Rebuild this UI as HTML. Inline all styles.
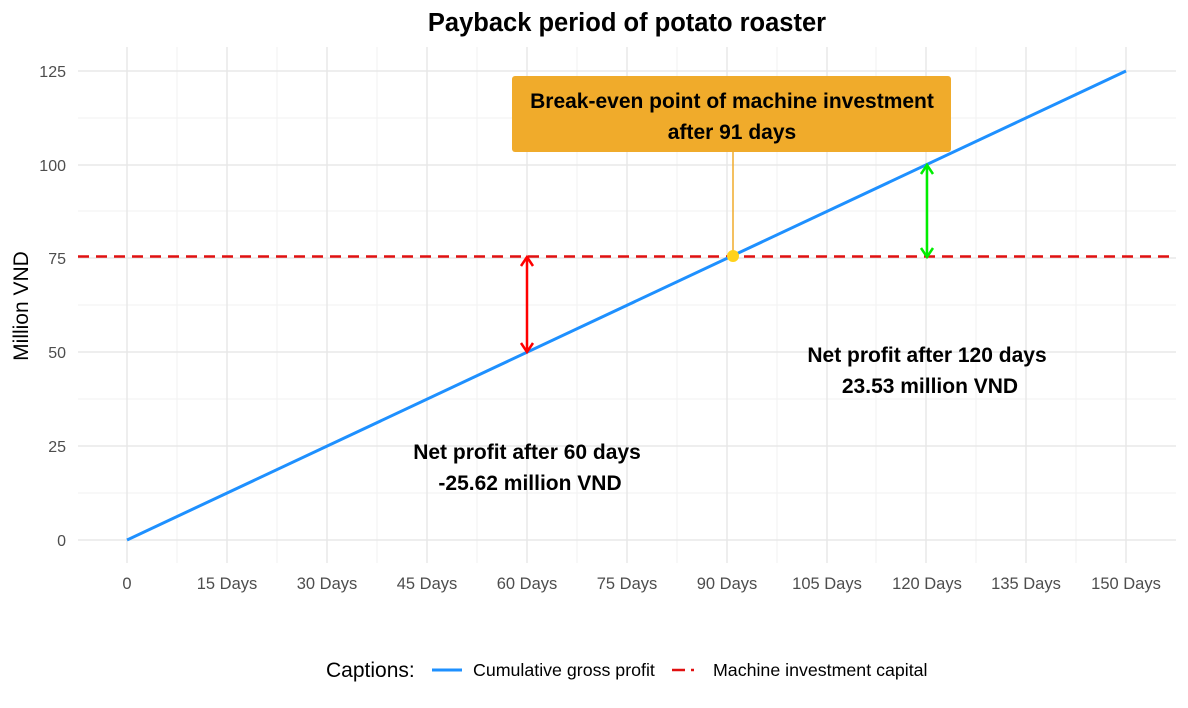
<!DOCTYPE html>
<html><head><meta charset="utf-8"><style>body{margin:0;background:#fff}svg{display:block}text{font-family:"Liberation Sans",Arial,sans-serif}</style></head><body>
<svg width="1188" height="708" viewBox="0 0 1188 708">
<rect width="1188" height="708" fill="#fff"/>
<g stroke="#f2f2f2" stroke-width="1">
<line x1="78" x2="1176" y1="493" y2="493"/><line x1="78" x2="1176" y1="399" y2="399"/><line x1="78" x2="1176" y1="305" y2="305"/><line x1="78" x2="1176" y1="211" y2="211"/><line x1="78" x2="1176" y1="118" y2="118"/>
<line x1="177" x2="177" y1="47" y2="563"/><line x1="277" x2="277" y1="47" y2="563"/><line x1="377" x2="377" y1="47" y2="563"/><line x1="477" x2="477" y1="47" y2="563"/><line x1="577" x2="577" y1="47" y2="563"/><line x1="677" x2="677" y1="47" y2="563"/><line x1="777" x2="777" y1="47" y2="563"/><line x1="876" x2="876" y1="47" y2="563"/><line x1="976" x2="976" y1="47" y2="563"/><line x1="1076" x2="1076" y1="47" y2="563"/>
</g>
<g stroke="#e8e8e8" stroke-width="1.5">
<line x1="78" x2="1176" y1="540" y2="540"/><line x1="78" x2="1176" y1="446" y2="446"/><line x1="78" x2="1176" y1="352" y2="352"/><line x1="78" x2="1176" y1="258" y2="258"/><line x1="78" x2="1176" y1="165" y2="165"/><line x1="78" x2="1176" y1="71" y2="71"/>
<line x1="127" x2="127" y1="47" y2="563"/><line x1="227" x2="227" y1="47" y2="563"/><line x1="327" x2="327" y1="47" y2="563"/><line x1="427" x2="427" y1="47" y2="563"/><line x1="527" x2="527" y1="47" y2="563"/><line x1="627" x2="627" y1="47" y2="563"/><line x1="727" x2="727" y1="47" y2="563"/><line x1="827" x2="827" y1="47" y2="563"/><line x1="926" x2="926" y1="47" y2="563"/><line x1="1026" x2="1026" y1="47" y2="563"/><line x1="1126" x2="1126" y1="47" y2="563"/>
</g>
<line x1="78" x2="1176" y1="256.5" y2="256.5" stroke="#e01010" stroke-width="2.5" stroke-dasharray="11,7"/>
<line x1="127" y1="540" x2="1126" y2="71" stroke="#1e90ff" stroke-width="3"/>
<line x1="733" y1="152" x2="733" y2="256" stroke="#f0ab2b" stroke-width="1.5"/>
<circle cx="733" cy="256" r="6" fill="#ffd21c"/>
<rect x="512" y="76" width="439" height="76" rx="3" fill="#f0ab2b"/>
<text x="732" y="108" text-anchor="middle" font-size="21" font-weight="bold">Break-even point of machine investment</text>
<text x="732" y="139" text-anchor="middle" font-size="21" font-weight="bold">after 91 days</text>
<g stroke="#ff0000" stroke-width="2.5" fill="none"><line x1="527" y1="258" x2="527" y2="351"/><polyline points="521,266 527,257 533,266"/><polyline points="521,343 527,352 533,343"/></g>
<g stroke="#00ee00" stroke-width="2.5" fill="none"><line x1="927" y1="166" x2="927" y2="256"/><polyline points="921,174 927,165 933,174"/><polyline points="921,248 927,257 933,248"/></g>
<g font-size="21" font-weight="bold" text-anchor="middle">
<text x="527" y="459">Net profit after 60 days</text><text x="530" y="490">-25.62 million VND</text>
<text x="927" y="362">Net profit after 120 days</text><text x="930" y="393">23.53 million VND</text>
</g>
<g font-size="16" fill="#4d4d4d" text-anchor="end">
<text x="66" y="546">0</text><text x="66" y="452">25</text><text x="66" y="358">50</text><text x="66" y="264">75</text><text x="66" y="171">100</text><text x="66" y="77">125</text>
</g>
<g font-size="16.5" fill="#4d4d4d" text-anchor="middle">
<text x="127" y="589">0</text><text x="227" y="589">15 Days</text><text x="327" y="589">30 Days</text><text x="427" y="589">45 Days</text><text x="527" y="589">60 Days</text><text x="627" y="589">75 Days</text><text x="727" y="589">90 Days</text><text x="827" y="589">105 Days</text><text x="927" y="589">120 Days</text><text x="1026" y="589">135 Days</text><text x="1126" y="589">150 Days</text>
</g>
<text x="28" y="306" font-size="21" text-anchor="middle" transform="rotate(-90 28 306)">Million VND</text>
<text x="627" y="31" font-size="25.5" font-weight="bold" text-anchor="middle">Payback period of potato roaster</text>
<text x="326" y="677" font-size="21">Captions:</text>
<line x1="432" x2="462" y1="670" y2="670" stroke="#1e90ff" stroke-width="3"/>
<text x="473" y="676" font-size="17.8">Cumulative gross profit</text>
<line x1="672" x2="685" y1="670" y2="670" stroke="#e01010" stroke-width="2.5"/><line x1="691" x2="694" y1="670" y2="670" stroke="#e01010" stroke-width="2.5"/>
<text x="713" y="676" font-size="17.8">Machine investment capital</text>
</svg>
</body></html>
